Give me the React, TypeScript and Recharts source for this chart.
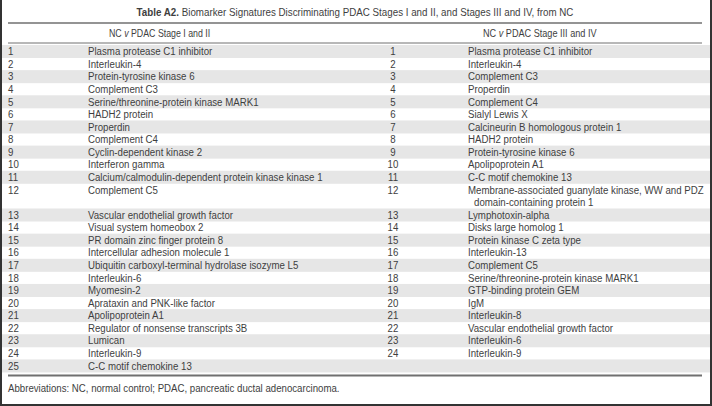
import React from 'react';
import { ComposedChart, Bar, XAxis, YAxis } from 'recharts';

const W = 712;
const H = 406;

const titleBold = 'Table A2.';
const titleRest = ' Biomarker Signatures Discriminating PDAC Stages I and II, and Stages III and IV, from NC';
const leftHeader = 'PDAC Stage I and II';
const rightHeader = 'PDAC Stage III and IV';
const footnote = 'Abbreviations: NC, normal control; PDAC, pancreatic ductal adenocarcinoma.';

const leftNums = ['1','2','3','4','5','6','7','8','9','10','11','12','13','14','15','16','17','18','19','20','21','22','23','24','25'];
const leftNames = [
  'Plasma protease C1 inhibitor',
  'Interleukin-4',
  'Protein-tyrosine kinase 6',
  'Complement C3',
  'Serine/threonine-protein kinase MARK1',
  'HADH2 protein',
  'Properdin',
  'Complement C4',
  'Cyclin-dependent kinase 2',
  'Interferon gamma',
  'Calcium/calmodulin-dependent protein kinase kinase 1',
  'Complement C5',
  'Vascular endothelial growth factor',
  'Visual system homeobox 2',
  'PR domain zinc finger protein 8',
  'Intercellular adhesion molecule 1',
  'Ubiquitin carboxyl-terminal hydrolase isozyme L5',
  'Interleukin-6',
  'Myomesin-2',
  'Aprataxin and PNK-like factor',
  'Apolipoprotein A1',
  'Regulator of nonsense transcripts 3B',
  'Lumican',
  'Interleukin-9',
  'C-C motif chemokine 13',
];
const rightNums = ['1','2','3','4','5','6','7','8','9','10','11','12','13','14','15','16','17','18','19','20','21','22','23','24'];
const rightNames = [
  'Plasma protease C1 inhibitor',
  'Interleukin-4',
  'Complement C3',
  'Properdin',
  'Complement C4',
  'Sialyl Lewis X',
  'Calcineurin B homologous protein 1',
  'HADH2 protein',
  'Protein-tyrosine kinase 6',
  'Apolipoprotein A1',
  'C-C motif chemokine 13',
  'Membrane-associated guanylate kinase, WW and PDZ',
  'Lymphotoxin-alpha',
  'Disks large homolog 1',
  'Protein kinase C zeta type',
  'Interleukin-13',
  'Complement C5',
  'Serine/threonine-protein kinase MARK1',
  'GTP-binding protein GEM',
  'IgM',
  'Interleukin-8',
  'Vascular endothelial growth factor',
  'Interleukin-6',
  'Interleukin-9',
];
// continuation line of right-hand row 12
const wrapRow = 12;
const rightWrap = 'domain-containing protein 1';

const SPAN = 708; // inner width between the frame lines

type Slot = {
  key: string;
  ln: string;
  lname: string;
  rn: string;
  rname: string;
  indent: boolean;
  shaded: boolean;
  span: number;
};

const slots: Slot[] = [];
leftNums.forEach((n, i) => {
  const shaded = i % 2 === 0;
  slots.push({
    key: 'r' + n,
    ln: n,
    lname: leftNames[i],
    rn: rightNums[i] ?? '',
    rname: rightNames[i] ?? '',
    indent: false,
    shaded,
    span: SPAN,
  });
  if (i + 1 === wrapRow) {
    slots.push({ key: 'r' + n + 'b', ln: '', lname: '', rn: '', rname: rightWrap, indent: true, shaded, span: SPAN });
  }
});

const FONT = '"Liberation Sans", Arial, Helvetica, sans-serif';
const TEXT = '#3e3e3e';
const BAND = '#e6e6e6';
const RULE = '#707070';
const BODY = 11;
const SX = 0.88; // horizontal condensing to mimic the narrow face

const T = ({ x, y, anchor = 'start', size = BODY, sx = SX, children }: any) => (
  <text
    transform={`translate(${x},${y}) scale(${sx},1)`}
    x={0}
    y={0}
    textAnchor={anchor}
    dominantBaseline="central"
    fontFamily={FONT}
    fontSize={size}
    fill={TEXT}
  >
    {children}
  </text>
);

const RowShape = (props: any) => {
  const { x, y, width, height } = props;
  const p: Slot = props.payload ?? props;
  const cy = y + height / 2;
  return (
    <g>
      {p.shaded && <rect x={x} y={y} width={width} height={height} fill={BAND} />}
      {p.ln && <T x={x + 6} y={cy}>{p.ln}</T>}
      {p.lname && <T x={x + 86} y={cy}>{p.lname}</T>}
      {p.rn && <T x={x + 391} y={cy} anchor="middle">{p.rn}</T>}
      {p.rname && <T x={x + (p.indent ? 472 : 466)} y={cy}>{p.rname}</T>}
    </g>
  );
};

export default function App() {
  return (
    <div style={{ position: 'absolute', left: 0, top: 0, width: W, height: H, background: '#fff' }}>
      <ComposedChart
        width={W}
        height={H}
        data={slots}
        layout="vertical"
        margin={{ top: 45, right: 2, bottom: 34, left: 2 }}
        barCategoryGap={0}
      >
        <XAxis type="number" domain={[0, SPAN]} hide />
        <YAxis type="category" dataKey="key" hide />
        <Bar dataKey="span" isAnimationActive={false} shape={RowShape} />
        <T x={355} y={12} anchor="middle" sx={0.89}>
          <tspan fontWeight="bold">{titleBold}</tspan>
          {titleRest}
        </T>
        <line x1={8} x2={702} y1={23} y2={23} stroke={RULE} strokeWidth={1.5} />
        <T x={109} y={33} sx={0.8}>
          NC <tspan fontStyle="italic">v</tspan> {leftHeader}
        </T>
        <T x={483} y={33} sx={0.83}>
          NC <tspan fontStyle="italic">v</tspan> {rightHeader}
        </T>
        <line x1={8} x2={702} y1={43} y2={43} stroke={RULE} strokeWidth={1} />
        <line x1={8} x2={702} y1={375.5} y2={375.5} stroke={RULE} strokeWidth={2} />
        <T x={8} y={388} size={10.5} sx={0.92}>
          {footnote}
        </T>
        <line x1={1} x2={1} y1={0} y2={H} stroke="#333" strokeWidth={2} />
        <line x1={711} x2={711} y1={0} y2={H} stroke="#333" strokeWidth={2} />
        <line x1={0} x2={W} y1={405} y2={405} stroke="#333" strokeWidth={2} />
      </ComposedChart>
    </div>
  );
}
